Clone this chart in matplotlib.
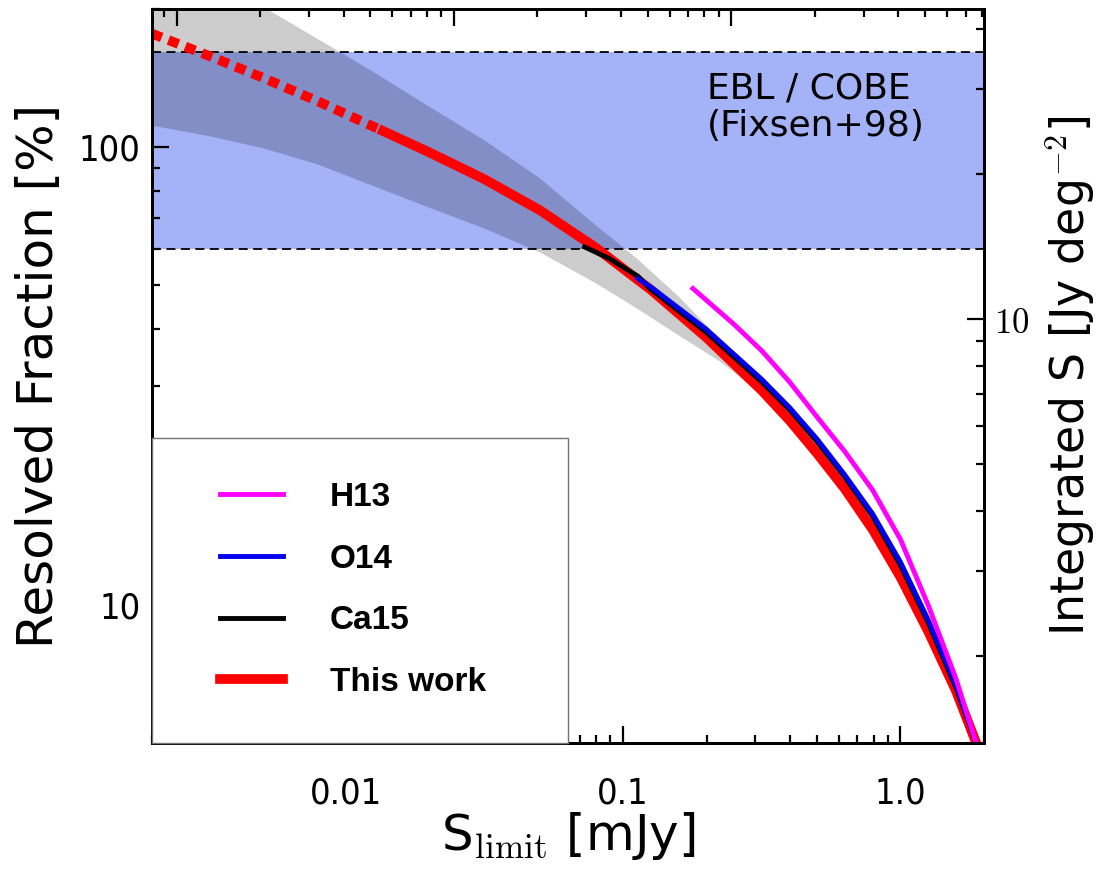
import matplotlib
matplotlib.use("Agg")
import matplotlib.pyplot as plt
from matplotlib.lines import Line2D
from matplotlib.patches import Rectangle
from matplotlib.ticker import FixedLocator, FixedFormatter, NullFormatter, LogLocator

plt.rcParams['font.family'] = ['DejaVu Sans']
plt.rcParams['mathtext.fontset'] = 'cm'

# Flux limit [mJy] and resolved fraction [%] for each curve
s_this = [0.002, 0.003162, 0.005012, 0.007943, 0.01365, 0.01995, 0.03162, 0.05012,
          0.07943, 0.1259, 0.1995, 0.3162, 0.3981, 0.5012, 0.631, 0.7943,
          1.0, 1.259, 1.585, 1.871, 1.95]
f_this = [177.0, 158.9, 141.9, 125.9, 108.4, 97.5, 85.1, 72.8,
          60.4, 48.8, 38.4, 29.4, 25.3, 21.4, 17.9, 14.6,
          11.5, 8.75, 6.49, 5.01, 4.73]
n_extrap = 5  # points below the survey depth are drawn dashed

s_ca15 = [0.0727, 0.0891, 0.1132, 0.1259, 0.1995, 0.3162, 0.3981, 0.5012, 0.631,
          0.7943, 1.0, 1.259, 1.585, 1.871, 1.95]
f_ca15 = [60.5, 57.1, 52.2, 48.9, 39.4, 30.7, 26.7, 22.7, 19.0,
          15.6, 12.2, 9.14, 6.59, 5.01, 4.73]

s_o14 = [0.1132, 0.1259, 0.1995, 0.3162, 0.3981, 0.5012, 0.631, 0.7943, 1.0,
         1.259, 1.585, 1.871, 1.95]
f_o14 = [51.6, 49.5, 40.0, 31.1, 27.0, 23.0, 19.2, 15.8, 12.4,
         9.27, 6.68, 5.01, 4.73]

s_h13 = [0.1786, 0.2512, 0.3162, 0.3981, 0.5012, 0.631, 0.7943, 1.0, 1.259,
         1.585, 1.871, 1.95]
f_h13 = [49.1, 41.0, 35.9, 30.7, 25.7, 21.6, 17.8, 13.9, 9.98,
         6.90, 5.01, 4.73]

# Uncertainty envelope on this work
s_band = [0.002, 0.003162, 0.005012, 0.007943, 0.01259, 0.01995, 0.03162, 0.05012,
          0.07943, 0.1122, 0.1585, 0.2239, 0.293]
band_lo = [111.4, 105.9, 99.5, 91.6, 82.2, 73.8, 66.4, 58.9,
           50.5, 44.4, 38.8, 34.0, 29.9]
band_hi = [280, 238.8, 202.8, 172.2, 145.9, 122.7, 103.5, 85.5,
           67.6, 57.1, 47.2, 38.0, 30.9]

# EBL range from COBE/FIRAS
ebl_lo, ebl_hi = 60.0, 161.0

x_ticks = [0.01, 0.1, 1.0]
x_ticklabels = ['0.01', '0.1', '1.0']
y_ticks = [10, 100]
y_ticklabels = ['10', '100']
y2_ticks = [10]
y2_ticklabels = ['$10$']

fig = plt.figure(figsize=(11.01, 8.76), dpi=100)
ax = fig.add_axes([0.1378, 0.1522, 0.7559, 0.8372])
ax.set_xscale('log')
ax.set_yscale('log')
ax.set_xlim(0.002, 2.0)
ax.set_ylim(5, 200)

ax.axhspan(ebl_lo, ebl_hi, facecolor='#a4b2f8', lw=0, zorder=1)
for yv in (ebl_lo, ebl_hi):
    ax.axhline(yv, color='k', lw=1.3, ls=(0, (5, 3)), zorder=2)
ax.fill_between(s_band, band_lo, band_hi, facecolor='k', alpha=0.2, lw=0, zorder=2)

ax.plot(s_this[:n_extrap], f_this[:n_extrap], color='red', lw=7,
        ls=(0, (1.1, 0.75)), dash_capstyle='butt', zorder=3)
ax.plot(s_this[n_extrap - 1:], f_this[n_extrap - 1:], color='red', lw=7,
        solid_joinstyle='round', zorder=3)
ax.plot(s_ca15, f_ca15, color='black', lw=3.5, solid_joinstyle='round', zorder=4)
ax.plot(s_o14, f_o14, color='#0000ee', lw=3.5, solid_joinstyle='round', zorder=5)
ax.plot(s_h13, f_h13, color='magenta', lw=3.5, solid_joinstyle='round', zorder=6)

ax.text(0.2, 102, 'EBL / COBE\n(Fixsen+98)', fontsize=26, ha='left', va='bottom',
        linespacing=1.12, zorder=7)

# Axis ticks
tick_kw = dict(direction='in', width=1.6, colors='k')
ax.xaxis.set_major_locator(FixedLocator(x_ticks))
ax.xaxis.set_major_formatter(FixedFormatter(x_ticklabels))
ax.xaxis.set_minor_locator(LogLocator(base=10, subs=range(2, 10), numticks=20))
ax.xaxis.set_minor_formatter(NullFormatter())
ax.yaxis.set_major_locator(FixedLocator(y_ticks))
ax.yaxis.set_major_formatter(FixedFormatter(y_ticklabels))
ax.yaxis.set_minor_locator(LogLocator(base=10, subs=range(2, 10), numticks=20))
ax.yaxis.set_minor_formatter(NullFormatter())
ax.tick_params(which='major', length=12, labelsize=26, **tick_kw)
ax.tick_params(which='minor', length=6, **tick_kw)
ax.tick_params(axis='x', which='major', pad=24)
ax.tick_params(axis='y', which='major', pad=8)
for lbl in ax.get_xticklabels() + ax.get_yticklabels():
    lbl.set_fontstretch('condensed')

ax.set_xlabel(r'S$_{\rm limit}$ [mJy]', fontsize=36, labelpad=0)
ax.set_ylabel('Resolved Fraction [%]', fontsize=36, labelpad=11)

# Right axis: integrated flux density
ax2 = ax.twinx()
ax2.set_yscale('log')
ax2.set_ylim(1.32, 44)
ax2.yaxis.set_major_locator(FixedLocator(y2_ticks))
ax2.yaxis.set_major_formatter(FixedFormatter(y2_ticklabels))
ax2.yaxis.set_minor_locator(LogLocator(base=10, subs=range(2, 10), numticks=20))
ax2.yaxis.set_minor_formatter(NullFormatter())
ax2.tick_params(which='major', length=12, labelsize=25, pad=7, **tick_kw)
ax2.tick_params(which='minor', length=6, **tick_kw)
ax2.set_ylabel('Integrated S [Jy deg$^{-2}$]', fontsize=33, labelpad=10)

# Top axis ticks
ax3 = ax.twiny()
ax3.set_xscale('log')
ax3.set_xlim(0.002 * 4.07, 2.0 * 4.07)
ax3.xaxis.set_minor_locator(LogLocator(base=10, subs=range(2, 10), numticks=20))
ax3.tick_params(which='major', length=12, labeltop=False, **tick_kw)
ax3.tick_params(which='minor', length=6, **tick_kw)
ax3.xaxis.set_major_formatter(NullFormatter())
ax3.xaxis.set_minor_formatter(NullFormatter())

for a in (ax, ax2, ax3):
    for sp in a.spines.values():
        sp.set_linewidth(1.8)

# Legend box in the lower-left corner
ax3.add_patch(Rectangle((0, 0), 0.5, 0.4155, transform=ax.transAxes, facecolor='white',
                        edgecolor='0.45', lw=1.0, zorder=8, clip_on=False))
handles = [Line2D([], [], color='magenta', lw=3.5),
           Line2D([], [], color='#0000ee', lw=3.5),
           Line2D([], [], color='black', lw=3.5),
           Line2D([], [], color='red', lw=7)]
labels = ['H13', 'O14', 'Ca15', 'This work']
leg = ax3.legend(handles, labels, loc='center', bbox_to_anchor=(0.242, 0.208),
                 bbox_transform=ax.transAxes, frameon=False, borderpad=0,
                 handlelength=1.9, handletextpad=1.4, labelspacing=0.92,
                 prop={'family': 'Liberation Sans', 'weight': 'bold', 'size': 24})
leg.set_zorder(9)

fig.savefig('out.png', dpi=100)
